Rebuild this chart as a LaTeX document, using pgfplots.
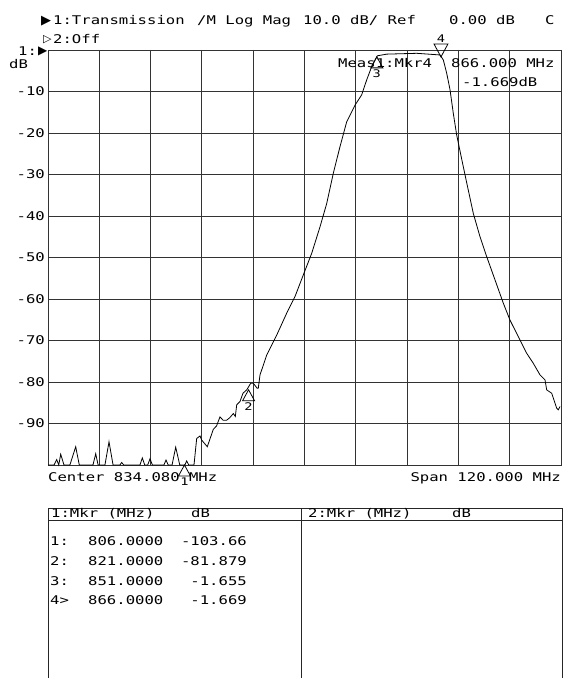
\documentclass[border=0pt]{standalone}
\usepackage{pgfplots}
\pgfplotsset{compat=1.18}
\usepackage{fontspec}
\newfontfamily\vnafam[FakeStretch=1.3]{DejaVu Sans Mono}
\newfontfamily\symfam{DejaVu Sans}
\newcommand\vt{\vnafam\fontsize{12bp}{14bp}\selectfont}
\newcommand\vs{\vnafam\fontsize{10.5bp}{12bp}\selectfont}
\pgfdeclareplotmark{mkup}{%
  \pgfpathmoveto{\pgfpointorigin}%
  \pgfpathlineto{\pgfpoint{-6bp}{-11bp}}%
  \pgfpathlineto{\pgfpoint{6bp}{-11bp}}%
  \pgfpathclose\pgfusepathqstroke}
\pgfdeclareplotmark{mkdown}{%
  \pgfpathmoveto{\pgfpointorigin}%
  \pgfpathlineto{\pgfpoint{-7bp}{13bp}}%
  \pgfpathlineto{\pgfpoint{7bp}{13bp}}%
  \pgfpathclose\pgfusepathqstroke}
\begin{document}
\begin{tikzpicture}[x=1bp,y=1bp]
\useasboundingbox (0,0) rectangle (563,678);
\fill[white] (0,0) rectangle (563,678);
% header texts
\node[anchor=base west,inner sep=0,font=\symfam\fontsize{13bp}{14bp}\selectfont] at (41,653) {▶};
\node[anchor=base west,inner sep=0,font=\vt] at (53,653) {1:Transmission};
\node[anchor=base west,inner sep=0,font=\vt] at (197,653) {/M Log Mag};
\node[anchor=base west,inner sep=0,font=\vt] at (303,653) {10.0 dB/ Ref};
\node[anchor=base west,inner sep=0,font=\vt] at (449,653) {0.00 dB};
\node[anchor=base west,inner sep=0,font=\vt] at (545,653) {C};
\node[anchor=base west,inner sep=0,font=\symfam\fontsize{11bp}{12bp}\selectfont] at (43,635) {▷};
\node[anchor=base west,inner sep=0,font=\vt] at (53,634) {2:Off};
\node[anchor=base west,inner sep=0,font=\vt] at (18,622) {1:};
\node[anchor=west,inner sep=0,font=\symfam\fontsize{12bp}{12bp}\selectfont] at (38,627) {▶};
\node[anchor=base west,inner sep=0,font=\vt] at (9,609) {dB};
\begin{axis}[
  at={(48bp,213bp)}, anchor=south west,
  scale only axis, width=513bp, height=415bp,
  xmin=774.08, xmax=894.08, ymin=-100, ymax=0,
  xtick={786.08,798.08,810.08,822.08,834.08,846.08,858.08,870.08,882.08},
  xticklabels={},
  ytick={-90,-80,-70,-60,-50,-40,-30,-20,-10},
  yticklabels={-90,-80,-70,-60,-50,-40,-30,-20,-10},
  yticklabel style={font=\vt, inner sep=0pt, xshift=-3bp},
  major tick length=0pt,
  grid=major,
  major grid style={black!80, line width=0.9bp},
  axis line style={black!80, line width=0.9bp},
  clip=false,
]
\addplot[black, line width=0.8bp] coordinates {
(774.08,-100) (774.31,-100) (775.5,-100) (776.12,-98.7) (776.6,-100)
(777.05,-97.4) (777.82,-100) (779.2,-100) (780.56,-95.6) (781.40,-100)
(784.6,-100) (785.24,-97.3) (785.8,-100) (787.4,-100) (788.35,-94.4)
(789.3,-100) (790.9,-100) (791.32,-99.4) (791.8,-100) (795.6,-100)
(796.14,-98.3) (796.7,-100) (797.4,-100) (797.94,-98.5) (798.5,-100)
(801.2,-100) (801.68,-98.8) (802.2,-100) (803.1,-100) (803.95,-95.7)
(804.9,-100) (806.1,-100) (806.52,-99.0) (807.0,-100) (808.23,-100)
(808.86,-93.6) (809.64,-93.0) (810.03,-94.0) (811.34,-95.6) (812.75,-91.4)
(813.5,-90.6) (814.31,-88.4) (815.02,-89.2) (815.88,-89.2) (816.6,-88.6)
(817.43,-87.6) (817.9,-88.3) (818.22,-85.5) (818.99,-84.7) (819.69,-82.7)
(820.56,-81.9) (821.50,-80.3) (822.10,-80.3) (823.0,-81.5) (823.27,-81.5)
(823.67,-78.3) (825.24,-73.5) (827.58,-68.7) (829.92,-63.4) (831.86,-59.4)
(833.80,-54.2) (835.76,-49.0) (837.71,-42.6) (839.27,-37.0) (840.82,-29.7)
(842.38,-23.3) (843.95,-17.3) (845.89,-13.3) (847.46,-10.8) (848.63,-7.2)
(849.80,-4.0) (851.11,-1.4) (853.31,-1.0) (860.33,-0.8) (865.78,-1.2)
(866.55,-2.4) (867.34,-5.6) (868.12,-9.6) (868.89,-15.3) (869.68,-20.5)
(870.85,-26.3) (872.02,-32.0) (873.57,-39.4) (875.13,-45.0) (876.70,-49.8)
(878.64,-55.4) (880.58,-61.0) (882.15,-65.1) (884.49,-69.9) (886.06,-73.1)
(887.60,-75.5) (889.17,-78.3) (890.34,-79.5) (890.73,-81.9) (891.90,-82.7)
(893.07,-86.3) (893.45,-86.7) (893.85,-85.9)
};
% markers (marker 1 at -103.66 is shown at the display floor, -100)
\addplot[only marks, mark=mkup, mark options={draw=black, line width=0.8bp},
  nodes near coords, point meta=explicit symbolic,
  nodes near coords style={font=\vs, anchor=north, inner sep=0pt, yshift=-12.5bp}]
  coordinates {(806,-100)[1] (821,-81.879)[2] (851,-1.655)[3]};
\addplot[only marks, mark=mkdown, mark options={draw=black, line width=0.8bp},
  nodes near coords, point meta=explicit symbolic,
  nodes near coords style={font=\vs, anchor=south, inner sep=0pt, yshift=14.5bp}]
  coordinates {(866,-1.669)[4]};
\end{axis}
% marker readout
\node[anchor=base west,inner sep=0,font=\vt] at (338,610) {Meas1:Mkr4};
\node[anchor=base west,inner sep=0,font=\vt] at (451,610) {866.000 MHz};
\node[anchor=base west,inner sep=0,font=\vt] at (462,591) {-1.669dB};
% bottom annotations
\node[anchor=base west,inner sep=0,font=\vt] at (48,196) {Center 834.080 MHz};
\node[anchor=base east,inner sep=0,font=\vt] at (561,196) {Span 120.000 MHz};
% marker table
\draw[black!85, line width=0.9bp] (48.5,0) -- (48.5,170) -- (562,170) -- (562,0);
\draw[black!85, line width=0.9bp] (48.5,157.5) -- (562,157.5);
\draw[black!85, line width=0.9bp] (301,0) -- (301,170);
\node[anchor=base west,inner sep=0,font=\vt] at (51,160) {1:Mkr (MHz)};
\node[anchor=base west,inner sep=0,font=\vt] at (191,160) {dB};
\node[anchor=base west,inner sep=0,font=\vt] at (308,160) {2:Mkr (MHz)};
\node[anchor=base west,inner sep=0,font=\vt] at (452,160) {dB};
\foreach \r/\lab/\f/\v in {132/1:/806.0000/-103.66, 112/2:/821.0000/-81.879, 92/3:/851.0000/-1.655, 73/4>/866.0000/-1.669}{
  \node[anchor=base west,inner sep=0,font=\vt] at (50,\r) {\lab};
  \node[anchor=base west,inner sep=0,font=\vt] at (88,\r) {\f};
  \node[anchor=base east,inner sep=0,font=\vt] at (247,\r) {\v};
}
\end{tikzpicture}
\end{document}
